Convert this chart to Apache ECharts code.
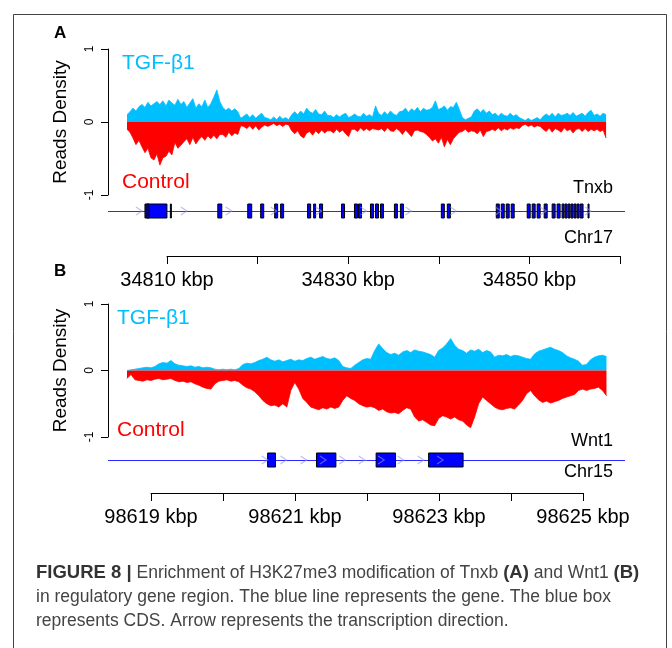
<!DOCTYPE html>
<html><head><meta charset="utf-8">
<script src="https://cdn.jsdelivr.net/npm/echarts@6/dist/echarts.min.js"></script>
<style>html,body{margin:0;padding:0;background:#fff}#c{width:672px;height:648px}</style>
</head><body><div id="c"></div>
<script>
// ---------- Panel A (Tnxb, Chr17) ----------
const viewA = [34803.4, 34860.6];           // kbp shown
const binStartA = 34805.5, binSizeA = 0.3313; // density bins (kbp)
const tgfA = [0.10,0.14, 0.19,0.15,0.21, 0.24,0.20,0.27,0.22,0.25,0.28, 0.24,0.29,0.22,0.30,0.26,0.23,0.31,0.24,0.28,
 0.20,0.26,0.32,0.19,0.25,0.21,0.30,0.20, 0.25,0.34,0.44,0.28, 0.20,0.16,0.19,0.15,0.18,0.14, 0.05,
 0.08,0.11,0.06,0.10,0.05,0.09,0.12,0.06,0.05, 0.03,0.07,0.03,0.08,0.04,0.06,0.03,
 0.10,0.14,0.10,0.15,0.11,0.19,0.14,0.12,0.17,0.11,0.10,0.15,0.09,
 0.09,0.06,0.10,0.07,0.10,0.12,0.06,0.08,0.11,0.08,0.07,0.12,0.08,0.10,0.07, 0.22,
 0.12,0.09,0.14,0.10,0.15,0.11,0.09,0.14, 0.15,0.19,0.13,0.18,0.15,0.20,0.14,0.19,0.16,0.17,
 0.20,0.29,0.17, 0.19,0.22,0.16,0.21,0.20,0.27,0.17, 0.06,0.03,0.05,0.07, 0.15,0.18,0.13,0.17,0.12,0.15,
 0.10,0.12,0.08,0.12,0.09,0.08,0.12,0.08,0.10,0.06, 0.04,0.02,0.05,0.02,0.04,0.06,0.03,
 0.08,0.11,0.08,0.12,0.07,0.12,0.09,0.10,0.12,0.09,0.13,0.08,0.10,0.12,0.08,0.13,0.16,0.09, 0.11,0.08,0.12,0.10];
const ctrlA = [-0.10,-0.14, -0.22,-0.31,-0.25, -0.34,-0.42,-0.36,-0.49,-0.52,-0.44,
 -0.59,-0.49,-0.47,-0.40,-0.45,-0.28,-0.36,-0.32,-0.27, -0.23,-0.31,-0.21,-0.30,-0.24,-0.20,-0.25,-0.19,
 -0.23,-0.18,-0.23,-0.17, -0.17,-0.21,-0.14,-0.19,-0.15,-0.17, -0.05,
 -0.06,-0.09,-0.05,-0.10,-0.05,-0.11,-0.07,-0.04,-0.06, -0.04,-0.02,-0.05,-0.03,-0.06,-0.03,-0.04,
 -0.12,-0.16,-0.12,-0.19,-0.22,-0.15,-0.13,-0.18,-0.12,-0.16,-0.11,-0.15,-0.12,
 -0.12,-0.15,-0.10,-0.14,-0.11,-0.16,-0.20,-0.10,-0.10,-0.13,-0.08,-0.12,-0.09,-0.12,-0.09, -0.10,
 -0.11,-0.09,-0.13,-0.08,-0.12,-0.13,-0.09,-0.12, -0.17,-0.11,-0.15,-0.20,-0.12,-0.11,-0.13,-0.14,-0.17,-0.21,
 -0.26,-0.23,-0.29, -0.21,-0.34,-0.24,-0.31,-0.23,-0.18,-0.14, -0.13,-0.10,-0.14,-0.12,
 -0.13,-0.16,-0.11,-0.20,-0.13,-0.12, -0.10,-0.12,-0.08,-0.12,-0.09,-0.11,-0.08,-0.10,-0.08,-0.09,
 -0.05,-0.03,-0.06,-0.04,-0.07,-0.05,-0.06,
 -0.10,-0.13,-0.08,-0.14,-0.09,-0.11,-0.14,-0.08,-0.12,-0.10,-0.15,-0.10,-0.09,-0.13,-0.09,-0.13,-0.10,-0.12,
 -0.10,-0.13,-0.11,-0.22];
const exonsA = [[34807.49,34809.92],[34807.71,34807.93],[34810.30,34810.40],[34815.55,34815.99],[34818.86,34819.30],
 [34820.29,34820.63],[34821.84,34822.17],[34822.50,34822.83],[34825.48,34825.82],[34826.15,34826.37],[34826.81,34827.14],
 [34829.24,34829.57],[34830.67,34831.01],[34831.12,34831.45],[34832.44,34832.77],[34832.99,34833.33],[34833.55,34833.88],
 [34835.09,34835.42],[34835.75,34836.09],[34840.28,34840.61],[34840.94,34841.28],
 [34846.36,34846.69],[34846.91,34847.24],[34847.46,34847.79],[34848.01,34848.34],
 [34849.78,34850.11],[34850.33,34850.66],[34850.88,34851.21],[34851.66,34851.99],[34852.54,34852.87],[34853.09,34853.42],
 [34853.64,34853.86],[34853.97,34854.20],[34854.31,34854.53],[34854.64,34854.86],[34854.97,34855.19],[34855.30,34855.52],
 [34855.63,34855.96],[34856.51,34856.60]];
const arrowsA = [34806.82,34811.79,34816.76,34821.73,34826.70,34831.67,34836.64,34841.61,34846.58,34851.55,34856.51];
const ticksA = [34810, 34860];          // first / last tick, every 10 kbp
const labelledA = [34810, 34830, 34850];

// ---------- Panel B (Wnt1, Chr15) ----------
const viewB = [98618.389, 98625.583];
const binStartB = 98618.653, binSizeB = 0.0556;
const tgfB = [0.00,0.01,0.02,0.03, 0.04,0.05,0.04,0.06, 0.10,0.12,0.11,0.15, 0.10,0.08,0.07,0.06,0.07,
 0.05,0.06,0.04,0.05,0.04, 0.02,0.01,0.02,0.01,0.02,0.01,0.03, 0.09,0.11,0.10,0.12, 0.15,0.17,0.20,0.16,
 0.14,0.16,0.13,0.15,0.17,0.14,0.16,0.15, 0.18,0.20,0.17,0.19,0.21,0.18,0.17,0.19,0.15, 0.06,0.04,0.03,
 0.08,0.12,0.16,0.18,0.17, 0.30,0.40,0.33, 0.27,0.24,0.26,0.23, 0.28,0.30,0.27,0.31,0.29,0.28,0.26,0.24, 0.20,
 0.30,0.34,0.40,0.48, 0.38,0.32,0.30, 0.26,0.31,0.29,0.32,0.27,0.30,0.28,
 0.20,0.23,0.22,0.24,0.21,0.23,0.22,0.20,0.18,0.17, 0.25,0.29,0.31,0.33,0.35,0.32,0.30,0.27,
 0.22,0.19,0.17,0.14, 0.08,0.09, 0.16,0.20,0.22,0.23,0.21];
const ctrlB = [-0.12,-0.06,-0.14,-0.15, -0.16,-0.14,-0.15,-0.13, -0.12,-0.14,-0.13,-0.12, -0.15,-0.17,-0.16,-0.18,-0.17,
 -0.20,-0.22,-0.25,-0.27,-0.28, -0.20,-0.16,-0.15,-0.14,-0.16,-0.15,-0.17, -0.22,-0.26,-0.28,-0.32,
 -0.38,-0.45,-0.50,-0.53, -0.52,-0.55,-0.50,-0.55,-0.30,-0.18,-0.28,-0.42,
 -0.48,-0.55,-0.57,-0.59,-0.56,-0.58,-0.55,-0.57,-0.55, -0.45,-0.38,-0.42, -0.45,-0.50,-0.53,-0.55,-0.54,
 -0.56,-0.60,-0.58, -0.62,-0.64,-0.63,-0.65, -0.60,-0.56,-0.58,-0.70,-0.76,-0.74,-0.78,-0.82, -0.83,
 -0.72,-0.68,-0.70,-0.73, -0.70,-0.74,-0.76, -0.82,-0.86,-0.70,-0.50,-0.40,-0.45,-0.50,
 -0.55,-0.58,-0.59,-0.57,-0.56,-0.58,-0.52,-0.45,-0.35,-0.30, -0.38,-0.44,-0.48,-0.46,-0.49,-0.47,-0.45,-0.42,
 -0.40,-0.38,-0.36,-0.30, -0.28,-0.30, -0.28,-0.27,-0.25,-0.30,-0.38];
const exonsB = [[98620.61,98620.72],[98621.29,98621.56],[98622.12,98622.39],[98622.85,98623.33]];
const arrowsB = [98620.57,98620.83,98621.11,98621.38,98621.65,98621.92,98622.19,98622.46,98622.74,98623.01];
const ticksB = [98619, 98625];            // every 1 kbp
const labelledB = [98619, 98621, 98623, 98625];

// ---------- build ----------
const F = '"Liberation Sans", Arial, sans-serif';
const BLUE = '#00BFFF', RED = '#FF0000';
const toXY = (arr, s, b) => arr.map((v, i) => [s + i * b, v]);

function densityY(g) {
  return { gridIndex: g, type: 'value', min: -1, max: 1, interval: 1,
    axisLine: { show: true, lineStyle: { color: '#000' } },
    axisTick: { show: true, length: 7, lineStyle: { color: '#000' } },
    axisLabel: { rotate: 90, fontSize: 12, color: '#000', fontFamily: F, margin: 12 },
    splitLine: { show: false },
    name: 'Reads Density', nameLocation: 'middle', nameGap: 38,
    nameTextStyle: { fontSize: 19, color: '#000', fontFamily: F } };
}
const hiddenY = g => ({ gridIndex: g, type: 'value', min: 0, max: 1, show: false });
const hiddenX = (g, v) => ({ gridIndex: g, type: 'value', min: v[0], max: v[1], show: false });
function kbpX(g, t, step, lab) {
  return { gridIndex: g, type: 'value', min: t[0], max: t[1], interval: step,
    axisLine: { show: true, onZero: false, lineStyle: { color: '#000' } },
    axisTick: { show: true, length: 8, lineStyle: { color: '#000' } },
    axisLabel: { fontSize: 20, color: '#000', fontFamily: F, margin: 14, showMinLabel: true, showMaxLabel: true,
      formatter: v => lab.includes(Math.round(v)) ? Math.round(v) + ' kbp' : '' },
    splitLine: { show: false } };
}
function area(xi, data, color) {
  return { type: 'line', xAxisIndex: xi, yAxisIndex: xi, data, showSymbol: false, symbol: 'none',
    lineStyle: { color, width: 0.8 }, areaStyle: { color, opacity: 1 }, silent: true, z: 2 };
}
function geneLine(xi, view) {
  return { type: 'custom', xAxisIndex: xi, yAxisIndex: xi, data: [[view[0], view[1]]], silent: true, z: 3,
    renderItem: (p, api) => {
      const a = api.coord([api.value(0), 0.5]), b = api.coord([api.value(1), 0.5]);
      return { type: 'line', shape: { x1: a[0], y1: Math.round(a[1]) + 0.5, x2: b[0], y2: Math.round(a[1]) + 0.5 },
        style: { stroke: '#2a2aff', lineWidth: 1 } };
    } };
}
function exons(xi, list) {
  return { type: 'custom', xAxisIndex: xi, yAxisIndex: xi, data: list, silent: true, z: 4,
    renderItem: (p, api) => {
      const s = api.coord([api.value(0), 1]), e = api.coord([api.value(1), 0]);
      return { type: 'rect', shape: { x: s[0], y: s[1], width: Math.max(e[0] - s[0], 1), height: e[1] - s[1] },
        style: { fill: '#0000ff', stroke: '#000', lineWidth: 1 } };
    } };
}
function arrows(xi, list) {
  return { type: 'custom', xAxisIndex: xi, yAxisIndex: xi, data: list.map(v => [v, 0.5]), silent: true, z: 5,
    renderItem: (p, api) => {
      const c = api.coord([api.value(0), api.value(1)]);
      return { type: 'polyline', shape: { points: [[c[0] - 3, c[1] - 4], [c[0] + 3, c[1]], [c[0] - 3, c[1] + 4]] },
        style: { stroke: 'rgba(150,150,225,0.6)', lineWidth: 1.2, fill: null } };
    } };
}
const txt = (x, y, text, size, color, align, extra) => ({ type: 'text', x, y,
  style: Object.assign({ text, fontSize: size, fill: color, fontFamily: F, align: align || 'left', verticalAlign: 'middle' }, extra || {}) });

const option = {
  animation: false,
  backgroundColor: '#fff',
  grid: [
    { left: 108, top: 49, width: 517, height: 146, outerBoundsMode: 'none' },
    { left: 108, top: 204, width: 517, height: 14, outerBoundsMode: 'none' },
    { left: 167, top: 249, width: 453, height: 7, outerBoundsMode: 'none' },
    { left: 108, top: 304, width: 517, height: 133, outerBoundsMode: 'none' },
    { left: 108, top: 453, width: 517, height: 14, outerBoundsMode: 'none' },
    { left: 151, top: 486, width: 432, height: 7, outerBoundsMode: 'none' }
  ],
  xAxis: [hiddenX(0, viewA), hiddenX(1, viewA), kbpX(2, ticksA, 10, labelledA),
          hiddenX(3, viewB), hiddenX(4, viewB), kbpX(5, ticksB, 1, labelledB)],
  yAxis: [densityY(0), hiddenY(1), hiddenY(2), densityY(3), hiddenY(4), hiddenY(5)],
  series: [
    area(0, toXY(tgfA, binStartA, binSizeA), BLUE),
    area(0, toXY(ctrlA, binStartA, binSizeA), RED),
    geneLine(1, viewA), exons(1, exonsA), arrows(1, arrowsA),
    area(3, toXY(tgfB, binStartB, binSizeB), BLUE),
    area(3, toXY(ctrlB, binStartB, binSizeB), RED),
    geneLine(4, viewB), exons(4, exonsB), arrows(4, arrowsB)
  ],
  graphic: [
    { type: 'polyline', shape: { points: [[13.5, 648], [13.5, 14.5], [666.5, 14.5], [666.5, 648]] },
      style: { stroke: '#444', lineWidth: 1, fill: null } },
    txt(54, 33, 'A', 17, '#000', 'left', { fontWeight: 'bold' }),
    txt(54, 271, 'B', 17, '#000', 'left', { fontWeight: 'bold' }),
    txt(122, 63, 'TGF-β1', 21, BLUE),
    txt(122, 182, 'Control', 21, RED),
    txt(117, 318, 'TGF-β1', 21, BLUE),
    txt(117, 430, 'Control', 21, RED),
    txt(613, 188, 'Tnxb', 18, '#000', 'right'),
    txt(613, 238, 'Chr17', 18, '#000', 'right'),
    txt(613, 441, 'Wnt1', 18, '#000', 'right'),
    txt(613, 472, 'Chr15', 18, '#000', 'right'),
    { type: 'text', x: 36, y: 561, style: {
      text: '{b|FIGURE 8 |} Enrichment of H3K27me3 modification of Tnxb {b|(A)} and Wnt1 {b|(B)}\nin regulatory gene region. The blue line represents the gene. The blue box\nrepresents CDS. Arrow represents the transcription direction.',
      fontSize: 17.5, lineHeight: 24, fill: '#444', fontFamily: F,
      rich: { b: { fontWeight: 'bold', fontSize: 18.5, lineHeight: 24, fill: '#333', fontFamily: F } } } }
  ]
};
const chart = echarts.init(document.getElementById('c'));
chart.setOption(option);
</script></body></html>
